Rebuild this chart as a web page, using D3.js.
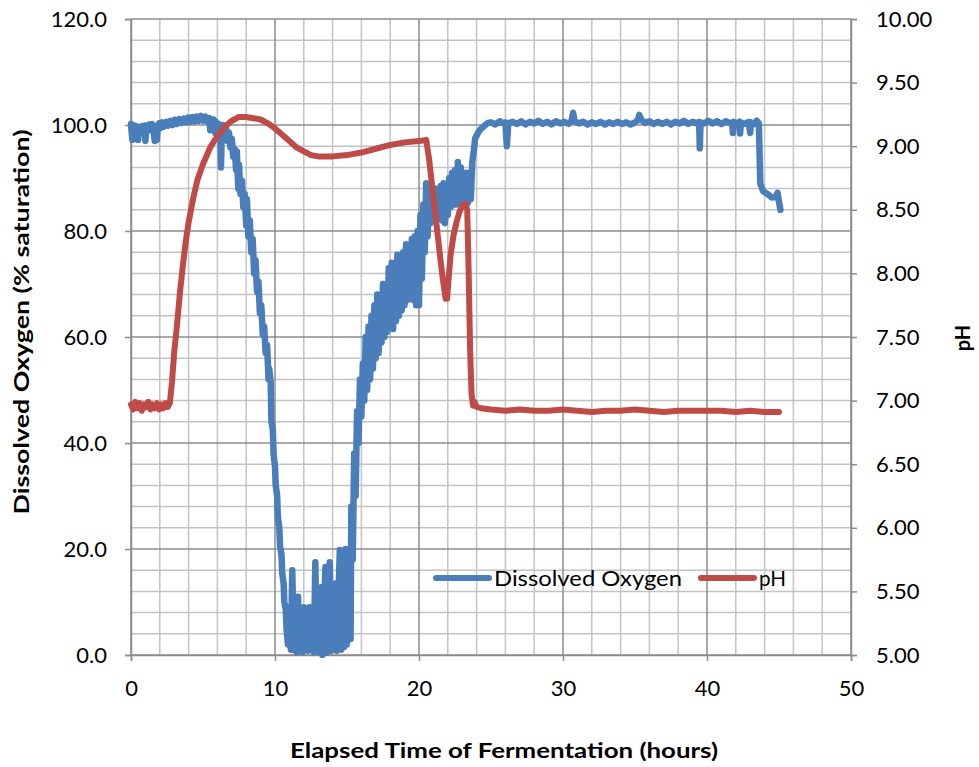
<!DOCTYPE html>
<html>
<head>
<meta charset="utf-8">
<script src="https://cdn.jsdelivr.net/npm/d3@7"></script>
<style>
  body { margin: 0; background: #fff; }
  svg text { font-family: Lato, "Open Sans", sans-serif; fill: #000; }
</style>
</head>
<body>
<div id="chart"></div>
<script>
// Dissolved oxygen readings: [hours, % saturation]
const doReadings = [
  [0.0, 100.2], [0.05, 98.5], [0.1, 97.2], [0.15, 100.0], [0.25, 98.6], [0.35, 99.8], [0.45, 98.4],
  [0.5, 97.2], [0.55, 99.6], [0.65, 98.6], [0.75, 99.8], [0.85, 98.5], [0.95, 99.9], [1.0, 97.0],
  [1.05, 99.6], [1.15, 98.9], [1.25, 100.1], [1.35, 99.0], [1.45, 100.2], [1.55, 99.2], [1.65, 97.0],
  [1.7, 99.8], [1.8, 97.2], [1.85, 99.4], [1.95, 100.3], [2.05, 99.4], [2.15, 100.5], [2.3, 99.7],
  [2.45, 100.6], [2.6, 99.9], [2.75, 100.8], [2.9, 100.0], [3.05, 101.0], [3.2, 100.2], [3.35, 101.1],
  [3.5, 100.4], [3.65, 101.2], [3.8, 100.5], [3.95, 101.4], [4.1, 100.6], [4.25, 101.5], [4.4, 100.7],
  [4.55, 101.6], [4.7, 100.8], [4.85, 101.7], [5.0, 100.8], [5.15, 101.6], [5.3, 100.6], [5.45, 101.3],
  [5.5, 99.0], [5.6, 100.6], [5.75, 101.0], [5.85, 98.5], [5.9, 100.6], [6.0, 99.5], [6.1, 100.2],
  [6.2, 98.8], [6.25, 92.0], [6.3, 98.5], [6.4, 100.0], [6.5, 98.2], [6.6, 99.4], [6.7, 97.0],
  [6.8, 98.6], [6.9, 95.8], [7.0, 97.4], [7.1, 94.0], [7.2, 95.5], [7.3, 91.5], [7.35, 95.0],
  [7.45, 88.0], [7.5, 92.5], [7.6, 87.0], [7.7, 89.5], [7.8, 84.5], [7.9, 87.0], [8.0, 81.0],
  [8.05, 86.0], [8.15, 79.0], [8.25, 82.0], [8.35, 76.0], [8.45, 78.5], [8.55, 72.0], [8.65, 74.5],
  [8.75, 68.5], [8.85, 70.5], [8.95, 64.5], [9.05, 66.0], [9.15, 60.5], [9.25, 62.0], [9.35, 57.0],
  [9.45, 58.5], [9.55, 52.0], [9.6, 54.0], [9.7, 51.5], [9.75, 44.0], [9.85, 42.5], [9.9, 38.0],
  [10.0, 35.5], [10.05, 32.0], [10.15, 30.0], [10.2, 26.0], [10.3, 24.0], [10.35, 20.5], [10.45, 19.0],
  [10.5, 15.5], [10.6, 13.5], [10.65, 10.0], [10.75, 8.5], [10.8, 5.0], [10.9, 2.0], [11.0, 9.0],
  [11.1, 1.0], [11.2, 16.0], [11.3, 1.0], [11.4, 9.0], [11.5, 0.5], [11.6, 11.0], [11.7, 1.0],
  [11.8, 8.0], [11.9, 0.5], [12.0, 9.0], [12.1, 1.0], [12.2, 8.0], [12.3, 0.8], [12.4, 9.0],
  [12.5, 1.0], [12.6, 7.0], [12.7, 0.5], [12.8, 17.5], [12.9, 0.8], [13.0, 9.0], [13.1, 0.5],
  [13.2, 12.8], [13.3, 0.0], [13.4, 8.0], [13.5, 16.6], [13.6, 0.5], [13.7, 9.0], [13.8, 17.5],
  [13.9, 0.8], [14.0, 9.0], [14.1, 1.0], [14.2, 13.5], [14.3, 0.8], [14.4, 10.0], [14.5, 19.8],
  [14.6, 1.0], [14.7, 11.0], [14.8, 1.5], [14.9, 20.0], [15.0, 2.0], [15.1, 12.0], [15.2, 19.8],
  [15.25, 3.0], [15.3, 28.0], [15.4, 18.0], [15.5, 38.0], [15.6, 30.0], [15.7, 46.0], [15.8, 40.0],
  [15.9, 52.0], [16.0, 45.0], [16.1, 55.0], [16.2, 48.0], [16.3, 60.0], [16.4, 50.0], [16.5, 62.0],
  [16.6, 52.0], [16.7, 64.0], [16.8, 54.0], [16.9, 66.0], [17.0, 56.0], [17.1, 68.0], [17.2, 57.0],
  [17.3, 67.0], [17.4, 59.0], [17.5, 70.0], [17.6, 60.0], [17.7, 69.0], [17.8, 61.0], [17.9, 73.0],
  [18.0, 62.0], [18.1, 74.0], [18.2, 61.5], [18.3, 73.0], [18.4, 63.0], [18.5, 75.5], [18.6, 64.0],
  [18.7, 74.0], [18.8, 65.0], [18.9, 76.0], [19.0, 66.0], [19.1, 77.5], [19.2, 67.0], [19.3, 77.0],
  [19.4, 68.0], [19.5, 78.5], [19.6, 67.0], [19.7, 79.0], [19.8, 66.0], [19.9, 80.0], [20.0, 66.0],
  [20.1, 83.0], [20.2, 71.0], [20.3, 85.0], [20.4, 76.0], [20.5, 89.0], [20.6, 79.0], [20.7, 88.0],
  [20.8, 81.5], [20.9, 88.5], [21.0, 82.0], [21.1, 88.0], [21.2, 83.0], [21.3, 87.5], [21.4, 82.5],
  [21.5, 88.5], [21.6, 82.0], [21.7, 89.0], [21.8, 81.5], [21.9, 88.0], [22.0, 83.0], [22.1, 90.0],
  [22.2, 84.5], [22.3, 91.0], [22.4, 85.0], [22.5, 91.5], [22.6, 85.0], [22.7, 93.0], [22.8, 85.3],
  [22.9, 92.0], [23.0, 85.5], [23.1, 91.0], [23.2, 85.0], [23.3, 91.0], [23.4, 85.3], [23.5, 90.0],
  [23.6, 86.0], [23.7, 93.0], [23.8, 95.0], [23.9, 97.5], [24.0, 98.0], [24.2, 99.0], [24.4, 99.5],
  [24.6, 100.0], [24.8, 100.4], [25.0, 100.5], [25.3, 100.1], [25.6, 100.7], [25.9, 100.3],
  [26.0, 100.5], [26.1, 96.0], [26.2, 100.3], [26.5, 100.6], [26.8, 100.2], [27.1, 100.7],
  [27.4, 100.1], [27.7, 100.6], [28.0, 100.3], [28.3, 100.8], [28.6, 100.2], [28.9, 100.6],
  [29.2, 100.1], [29.5, 100.7], [29.8, 100.3], [30.1, 100.6], [30.4, 100.2], [30.6, 100.8],
  [30.7, 102.3], [30.8, 100.7], [31.1, 100.3], [31.4, 100.6], [31.7, 100.1], [32.0, 100.5],
  [32.3, 100.2], [32.6, 100.6], [32.9, 100.1], [33.2, 100.5], [33.5, 100.2], [33.8, 100.6],
  [34.1, 100.2], [34.4, 100.5], [34.7, 100.1], [35.0, 100.5], [35.2, 100.9], [35.3, 101.9],
  [35.45, 100.9], [35.7, 100.4], [36.0, 100.7], [36.3, 100.2], [36.6, 100.6], [36.9, 100.2],
  [37.2, 100.6], [37.5, 100.1], [37.8, 100.6], [38.1, 100.3], [38.4, 100.8], [38.7, 100.2],
  [39.0, 100.6], [39.3, 100.3], [39.45, 100.6], [39.5, 95.6], [39.55, 100.5], [39.8, 100.3],
  [40.1, 100.8], [40.4, 100.3], [40.7, 100.7], [41.0, 100.2], [41.3, 100.7], [41.6, 100.3],
  [41.75, 100.5], [41.8, 98.5], [41.85, 100.6], [42.1, 100.2], [42.25, 100.6], [42.3, 98.4],
  [42.35, 100.5], [42.6, 100.2], [42.9, 100.6], [43.0, 98.5], [43.05, 100.5], [43.3, 100.2],
  [43.45, 100.8], [43.6, 100.3], [43.7, 89.0], [43.9, 87.5], [44.2, 87.0], [44.5, 86.3],
  [44.8, 86.5], [44.9, 87.2], [45.0, 85.5], [45.1, 84.0]
];

// pH readings: [hours, pH]
const phReadings = [
  [0.0, 6.97], [0.15, 6.93], [0.3, 6.99], [0.45, 6.94], [0.6, 6.98], [0.75, 6.92], [0.9, 6.97],
  [1.05, 6.95], [1.2, 6.99], [1.35, 6.93], [1.5, 6.97], [1.65, 6.94], [1.8, 6.98], [1.95, 6.93],
  [2.1, 6.97], [2.25, 6.94], [2.4, 6.98], [2.55, 6.95], [2.7, 6.98], [2.85, 7.15], [3.0, 7.38],
  [3.2, 7.6], [3.4, 7.85], [3.6, 8.06], [3.8, 8.25], [4.0, 8.4], [4.3, 8.58], [4.6, 8.73],
  [5.0, 8.86], [5.5, 8.99], [6.0, 9.08], [6.5, 9.15], [7.0, 9.2], [7.5, 9.23], [8.0, 9.23],
  [8.5, 9.22], [9.0, 9.21], [9.5, 9.18], [10.0, 9.14], [10.5, 9.09], [11.0, 9.04], [11.5, 8.99],
  [12.0, 8.96], [12.5, 8.93], [13.0, 8.92], [13.5, 8.92], [14.0, 8.92], [15.0, 8.93], [16.0, 8.95],
  [17.0, 8.98], [18.0, 9.01], [19.0, 9.03], [20.0, 9.04], [20.5, 9.05], [20.7, 8.9], [21.0, 8.6],
  [21.3, 8.3], [21.6, 8.0], [21.85, 7.8], [21.95, 7.8], [22.05, 7.95], [22.2, 8.15], [22.4, 8.3],
  [22.6, 8.4], [22.8, 8.48], [23.0, 8.53], [23.2, 8.55], [23.35, 8.5], [23.45, 8.0], [23.55, 7.4],
  [23.65, 7.05], [23.75, 6.96], [23.85, 6.99], [24.0, 6.95], [24.3, 6.94], [25.0, 6.93], [26.0, 6.92],
  [27.0, 6.93], [28.0, 6.92], [29.0, 6.92], [30.0, 6.93], [31.0, 6.92], [32.0, 6.91], [33.0, 6.92],
  [34.0, 6.92], [35.0, 6.93], [36.0, 6.92], [37.0, 6.91], [38.0, 6.92], [39.0, 6.92], [40.0, 6.92],
  [41.0, 6.92], [42.0, 6.91], [43.0, 6.92], [44.0, 6.91], [45.0, 6.91]
];

const hourTicks = [0, 10, 20, 30, 40, 50];
const doTicks = [0, 20, 40, 60, 80, 100, 120];
const phTicks = [5.0, 5.5, 6.0, 6.5, 7.0, 7.5, 8.0, 8.5, 9.0, 9.5, 10.0];

const seriesNames = ['Dissolved Oxygen', 'pH'];
const seriesColors = ['#4a7ebb', '#be4b48'];

const width = 979, height = 767;
const plot = { left: 131, right: 851, top: 19, bottom: 655 };

const svg = d3.select('#chart').append('svg')
    .attr('width', width)
    .attr('height', height);

const x = d3.scaleLinear().domain([0, 50]).range([plot.left, plot.right]);
const yDo = d3.scaleLinear().domain([0, 120]).range([plot.bottom, plot.top]);
const yPh = d3.scaleLinear().domain([5, 10]).range([plot.bottom, plot.top]);

// Gridlines: minor first, then major
const grid = svg.append('g').attr('class', 'grid');
const minorX = d3.range(0, 51, 2).filter(v => !hourTicks.includes(v));
const minorY = d3.range(0, 121, 4).filter(v => !doTicks.includes(v));

grid.selectAll('.vminor').data(minorX).enter().append('line')
    .attr('x1', d => x(d)).attr('x2', d => x(d))
    .attr('y1', plot.top).attr('y2', plot.bottom)
    .attr('stroke', '#c3c3c3').attr('stroke-width', 1.5);

grid.selectAll('.hminor').data(minorY).enter().append('line')
    .attr('x1', plot.left).attr('x2', plot.right)
    .attr('y1', d => yDo(d)).attr('y2', d => yDo(d))
    .attr('stroke', '#c3c3c3').attr('stroke-width', 1.5);

grid.selectAll('.vmajor').data(hourTicks).enter().append('line')
    .attr('x1', d => x(d)).attr('x2', d => x(d))
    .attr('y1', plot.top).attr('y2', plot.bottom)
    .attr('stroke', '#8c8c8c').attr('stroke-width', 1.5);

grid.selectAll('.hmajor').data(doTicks).enter().append('line')
    .attr('x1', plot.left).attr('x2', plot.right)
    .attr('y1', d => yDo(d)).attr('y2', d => yDo(d))
    .attr('stroke', '#8c8c8c').attr('stroke-width', 1.5);

// Axes
function styleAxis(g) {
    g.select('.domain').attr('stroke', '#8c8c8c').attr('stroke-width', 1.5);
    g.selectAll('.tick line').attr('stroke', '#8c8c8c').attr('stroke-width', 1.5);
    g.selectAll('.tick text').style('font-size', '22px').attr('fill', '#000');
}

svg.append('g')
    .attr('transform', `translate(0,${plot.bottom})`)
    .call(d3.axisBottom(x).tickValues(hourTicks).tickSizeOuter(0).tickSize(6).tickPadding(19))
    .call(styleAxis);

svg.append('g')
    .attr('transform', `translate(${plot.left},0)`)
    .call(d3.axisLeft(yDo).tickValues(doTicks).tickFormat(d3.format('.1f')).tickSizeOuter(0).tickSize(6).tickPadding(18))
    .call(styleAxis);

svg.append('g')
    .attr('transform', `translate(${plot.right},0)`)
    .call(d3.axisRight(yPh).tickValues(phTicks).tickFormat(d3.format('.2f')).tickSizeOuter(0).tickSize(6).tickPadding(19))
    .call(styleAxis);

// Series lines
const doLine = d3.line().x(d => x(d[0])).y(d => yDo(d[1]));
const phLine = d3.line().x(d => x(d[0])).y(d => yPh(d[1]));

svg.append('path')
    .datum(doReadings)
    .attr('fill', 'none')
    .attr('stroke', seriesColors[0])
    .attr('stroke-width', 6.5)
    .attr('stroke-linejoin', 'round')
    .attr('stroke-linecap', 'round')
    .attr('d', doLine);

svg.append('path')
    .datum(phReadings)
    .attr('fill', 'none')
    .attr('stroke', seriesColors[1])
    .attr('stroke-width', 6)
    .attr('stroke-linejoin', 'round')
    .attr('stroke-linecap', 'round')
    .attr('d', phLine);

// Legend
const legend = svg.append('g').attr('transform', 'translate(436,578)');
const legendX = [0, 265];
const legendTextWidth = [188, 27];
seriesNames.forEach((name, i) => {
    const item = legend.append('g').attr('transform', `translate(${legendX[i]},0)`);
    item.append('line')
        .attr('x1', 0).attr('x2', 53)
        .attr('stroke', seriesColors[i]).attr('stroke-width', 6)
        .attr('stroke-linecap', 'round');
    item.append('text')
        .attr('x', 58).attr('dy', '0.36em')
        .attr('textLength', legendTextWidth[i])
        .attr('lengthAdjust', 'spacingAndGlyphs')
        .style('font-size', '22px')
        .text(name);
});

// Axis titles
svg.append('text')
    .attr('x', 504)
    .attr('y', 758)
    .attr('text-anchor', 'middle')
    .attr('textLength', 428)
    .attr('lengthAdjust', 'spacingAndGlyphs')
    .style('font-size', '21px').style('font-weight', 'bold')
    .text('Elapsed Time of Fermentation (hours)');

svg.append('text')
    .attr('transform', 'translate(29,322) rotate(-90)')
    .attr('text-anchor', 'middle')
    .attr('textLength', 385)
    .attr('lengthAdjust', 'spacingAndGlyphs')
    .style('font-size', '20px').style('font-weight', 'bold')
    .text('Dissolved Oxygen (% saturation)');

svg.append('text')
    .attr('transform', 'translate(970,338) rotate(-90)')
    .attr('text-anchor', 'middle')
    .style('font-size', '20px').style('font-weight', 'bold')
    .text('pH');
</script>
</body>
</html>
